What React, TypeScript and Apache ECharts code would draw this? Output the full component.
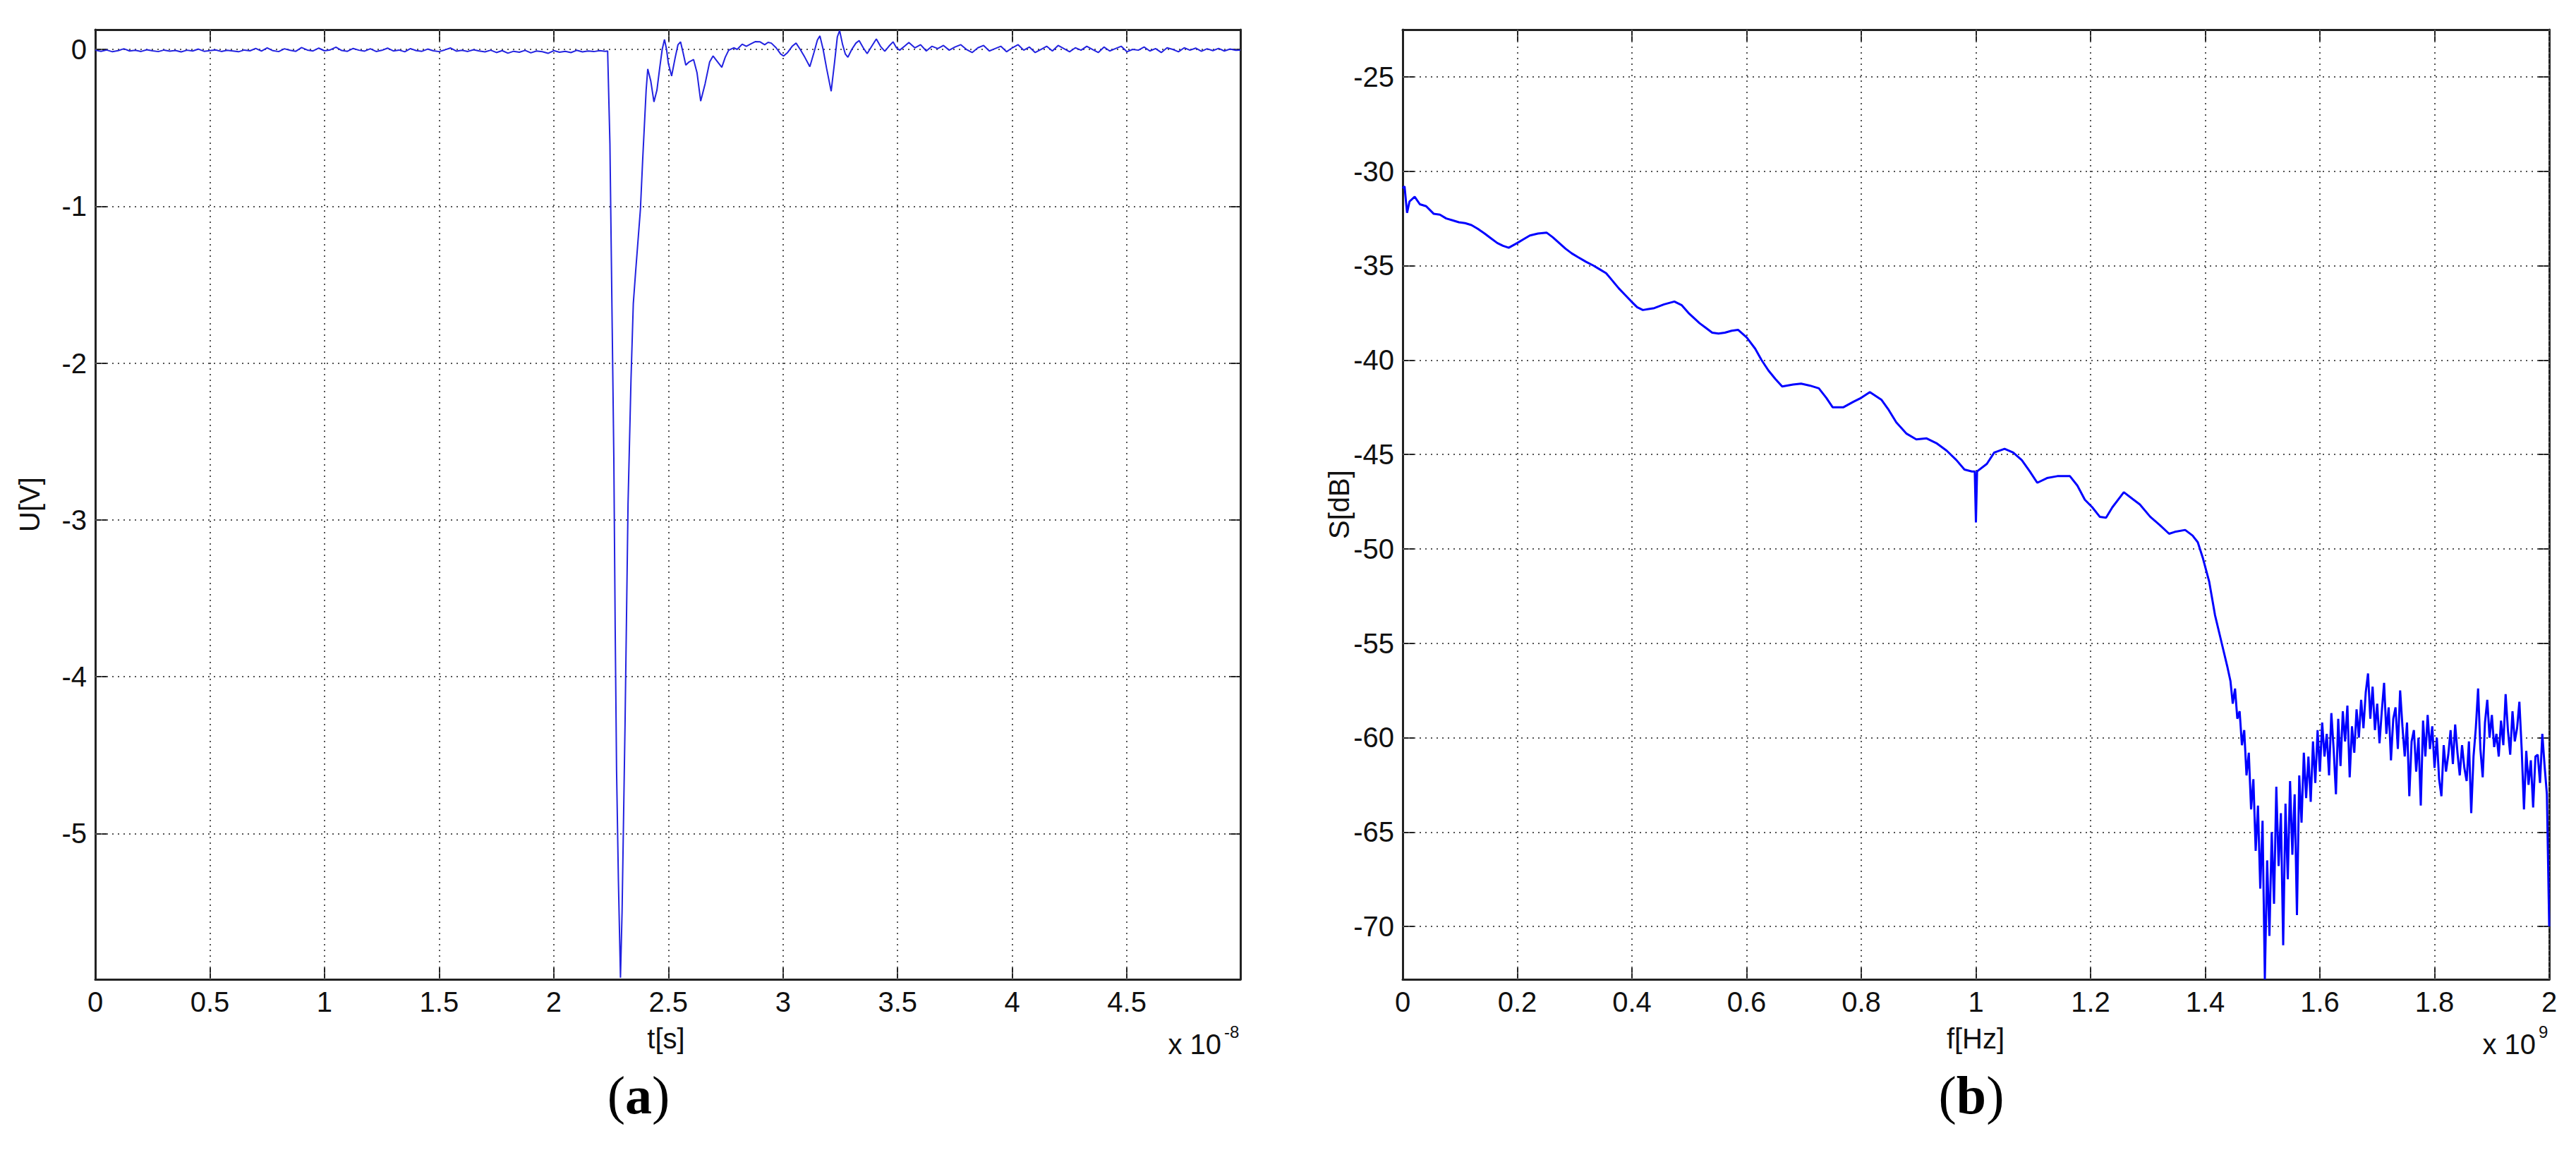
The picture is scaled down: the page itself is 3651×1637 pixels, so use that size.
import React, { useEffect, useRef } from "react";
import * as echarts from "echarts";

// ---------- (a) time-domain pulse, t in units of 1e-8 s, U in V ----------
const preTriggerStep = 0.025;
const preTriggerU = [
  -0.005, -0.012, -0.004, -0.015, -0.008, 0.004, -0.01, -0.006, -0.013, -0.002,
  -0.009, -0.014, -0.004, -0.011, -0.007, -0.016, -0.005, -0.01, 0.002, -0.012,
  -0.008, -0.003, -0.013, -0.006, -0.01, -0.015, -0.004, -0.009, 0.006, -0.011,
  0.01, -0.008, -0.014, 0.004, -0.006, -0.012, 0.012, -0.004, -0.01, 0.008,
  -0.009, -0.003, 0.014, -0.007, -0.012, 0.006, -0.005, -0.011, 0.004, -0.013,
  -0.006, 0.008, -0.01, -0.004, -0.015, 0.005, -0.008, -0.012, 0.002, -0.009,
  -0.014, -0.003, 0.009, -0.011, -0.006, -0.013, -0.002, -0.01, -0.016, -0.005,
  -0.02, -0.008, -0.024, -0.012, -0.018, -0.006, -0.022, -0.01, -0.015, -0.025,
  -0.008, -0.018, -0.012, -0.02, -0.006, -0.016, -0.01, -0.014, -0.008, -0.012,
];
const pulseT = [
  2.235, 2.245, 2.255, 2.262, 2.268, 2.274, 2.282, 2.291, 2.298, 2.311,
  2.324, 2.337, 2.347, 2.357, 2.378, 2.388, 2.403, 2.41, 2.423, 2.437,
  2.45, 2.462, 2.473, 2.483, 2.492, 2.5, 2.514, 2.53, 2.542, 2.553,
  2.564, 2.576, 2.59, 2.61, 2.625, 2.641, 2.66, 2.68, 2.695, 2.715,
  2.733, 2.748, 2.763, 2.785, 2.8, 2.822, 2.84, 2.86, 2.88, 2.9,
  2.92, 2.935, 2.949, 2.97, 2.99, 3.003, 3.02, 3.04, 3.057, 3.075,
  3.095, 3.117, 3.135, 3.15, 3.161, 3.175, 3.19, 3.21, 3.225, 3.237,
  3.247, 3.26, 3.272, 3.283, 3.3, 3.318, 3.332, 3.35, 3.367, 3.387,
  3.407, 3.425, 3.444, 3.462, 3.48, 3.495, 3.509, 3.53, 3.549,
];
const pulseU = [
  -0.01, -0.6, -1.78, -2.6, -3.7, -4.6, -5.3, -5.92, -5.5, -4.3,
  -2.9, -2.1, -1.62, -1.42, -1.02, -0.7, -0.26, -0.125, -0.2, -0.335,
  -0.26, -0.12, 0.0, 0.063, 0.0, -0.09, -0.17, -0.05, 0.03, 0.048,
  -0.02, -0.1, -0.08, -0.065, -0.15, -0.33, -0.22, -0.08, -0.042, -0.08,
  -0.114, -0.05, -0.005, 0.01, 0.0, 0.033, 0.02, 0.035, 0.05, 0.048,
  0.03, 0.045, 0.04, 0.01, -0.03, -0.042, -0.02, 0.02, 0.04, 0.0,
  -0.05, -0.11, -0.02, 0.06, 0.086, 0.0, -0.12, -0.267, -0.08, 0.08,
  0.12, 0.03, -0.03, -0.05, 0.0, 0.04, 0.056, 0.01, -0.027, 0.02,
  0.066, 0.02, -0.012, 0.02, 0.048, 0.01, -0.005, 0.02, 0.044,
];
const tailStart = 3.575;
const tailStep = 0.025;
const tailU = [
  0.01, 0.03, -0.01, 0.02, 0.005, 0.025, -0.005, 0.015, 0.03, 0.0,
  -0.02, 0.01, 0.025, -0.01, 0.005, 0.02, -0.015, 0.01, 0.03, -0.005,
  0.015, -0.02, 0.0, 0.02, -0.01, 0.025, 0.005, -0.015, 0.01, -0.005,
  0.02, 0.0, -0.02, 0.015, -0.01, 0.005, 0.02, -0.015, 0.0, -0.005,
  0.015, -0.01, 0.005, -0.02, 0.01, 0.0, -0.015, 0.01, -0.005, 0.008,
  -0.012, 0.004, -0.008, 0.006, -0.01, 0.002, -0.006,
];
const endT = 4.995;
const endU = -0.004;
const tRange = [0, 4.995];
const uRange = [-5.93, 0.126];
const tTicks = [0, 0.5, 1, 1.5, 2, 2.5, 3, 3.5, 4, 4.5];
const uTicks = [-5, -4, -3, -2, -1, 0];

// ---------- (b) spectrum, f in units of 1e9 Hz, S in dB ----------
const specF = [
  0, 0.0033, 0.0077, 0.012, 0.021, 0.03, 0.041, 0.054, 0.065, 0.076,
  0.087, 0.098, 0.109, 0.12, 0.131, 0.143, 0.154, 0.165, 0.175, 0.185,
  0.2, 0.211, 0.222, 0.236, 0.251, 0.262, 0.273, 0.284, 0.295, 0.306,
  0.32, 0.333, 0.344, 0.355, 0.366, 0.377, 0.388, 0.399, 0.409, 0.419,
  0.429, 0.439, 0.456, 0.474, 0.487, 0.5, 0.509, 0.518, 0.529, 0.54,
  0.551, 0.562, 0.574, 0.585, 0.6, 0.615, 0.626, 0.638, 0.65, 0.662,
  0.681, 0.695, 0.71, 0.726, 0.739, 0.75, 0.769, 0.787, 0.8, 0.815,
  0.835, 0.848, 0.861, 0.879, 0.896, 0.914, 0.931, 0.949, 0.966, 0.98,
  0.993, 0.998, 1.0, 1.002, 1.019, 1.032, 1.05, 1.065, 1.08, 1.094,
  1.107, 1.124, 1.142, 1.164, 1.177, 1.19, 1.203, 1.216, 1.227, 1.238,
  1.258, 1.273, 1.286, 1.304, 1.321, 1.337, 1.347, 1.365, 1.378, 1.387,
  1.396, 1.407, 1.417, 1.428, 1.439,
];
const specS = [
  -30.9, -30.8, -32.2, -31.6, -31.35, -31.75, -31.85, -32.25, -32.3, -32.5,
  -32.6, -32.7, -32.75, -32.85, -33.05, -33.3, -33.55, -33.8, -33.95, -34.05,
  -33.8, -33.6, -33.4, -33.3, -33.25, -33.5, -33.8, -34.1, -34.35, -34.55,
  -34.8, -35.0, -35.2, -35.4, -35.8, -36.2, -36.55, -36.9, -37.2, -37.35,
  -37.3, -37.25, -37.05, -36.9, -37.1, -37.55, -37.8, -38.05, -38.3, -38.55,
  -38.6, -38.55, -38.45, -38.4, -38.8, -39.4, -40.0, -40.55, -41.0, -41.4,
  -41.3, -41.25, -41.35, -41.5, -42.0, -42.5, -42.5, -42.2, -42.0, -41.7,
  -42.1, -42.65, -43.3, -43.9, -44.2, -44.15, -44.4, -44.8, -45.3, -45.8,
  -45.9, -45.9, -48.6, -45.9, -45.5, -44.9, -44.7, -44.9, -45.3, -45.9,
  -46.5, -46.25, -46.15, -46.15, -46.65, -47.4, -47.8, -48.3, -48.35, -47.8,
  -47.0, -47.35, -47.65, -48.3, -48.75, -49.2, -49.1, -49.0, -49.3, -49.65,
  -50.5, -51.75, -53.5, -54.9, -56.3,
];
const noisyStart = 1.444;
const noisyStep = 0.004;
const noisyS = [
  -57.0, -58.2, -57.4, -59.0, -58.6, -60.4, -59.6, -62.0, -60.8, -63.8,
  -62.2, -66.0, -63.6, -68.0, -64.4, -72.8, -66.5, -70.5, -65.0, -68.8,
  -62.6, -66.8, -64.0, -71.0, -63.5, -67.5, -62.3, -66.2, -63.0, -69.4,
  -62.0, -64.5, -60.8, -63.2, -61.0, -63.4, -60.2, -62.4, -59.6, -61.8,
  -59.2, -61.0, -59.8, -62.0, -58.7, -60.6, -63.0, -59.0, -61.5, -58.6,
  -60.2, -58.3, -62.1, -59.4, -60.8, -58.5, -60.0, -58.0, -59.5, -57.6,
  -56.6, -59.0, -57.3, -59.6, -58.2, -60.3, -58.6, -57.1, -59.8, -58.4,
  -61.2, -59.0, -58.4, -60.6, -57.5, -59.4, -61.0, -59.2, -63.1, -60.2,
  -59.6, -61.8, -60.0, -63.6, -59.1, -61.0, -58.8, -60.6, -59.4, -61.6,
  -60.0, -62.2, -63.1, -60.4, -61.8, -60.9, -59.6, -61.4, -59.3, -60.8,
  -62.0, -60.4, -61.6, -62.3, -60.2, -64.0, -61.0, -59.5, -57.4, -60.6,
  -62.1, -59.2, -58.0, -60.0, -58.8, -60.5, -59.8, -61.0, -59.1, -60.4,
  -57.7, -59.6, -60.9, -58.6, -60.2, -59.5, -58.1, -60.6, -63.8, -60.7,
  -62.5, -61.2, -63.7, -61.0, -60.9, -62.4, -59.8, -61.5, -63.0,
];
const endF = 2.0;
const endS = -70.0;
const fRange = [0, 2];
const sRange = [-72.8, -22.5];
const fTicks = [0, 0.2, 0.4, 0.6, 0.8, 1, 1.2, 1.4, 1.6, 1.8, 2];
const sTicks = [-70, -65, -60, -55, -50, -45, -40, -35, -30, -25];

const SANS = '"Liberation Sans", Arial, Helvetica, sans-serif';
const SERIF = '"Liberation Serif", "Times New Roman", serif';
const PULSE_BLUE = "#2222e0";
const SPEC_BLUE = "#0000ff";
const FRAME = "#222";
const GRID = "#555";

function buildPulse(): number[][] {
  const d: number[][] = [];
  preTriggerU.forEach((u, i) => d.push([+(i * preTriggerStep).toFixed(4), u]));
  pulseT.forEach((t, i) => d.push([t, pulseU[i]]));
  tailU.forEach((u, i) => d.push([+(tailStart + i * tailStep).toFixed(4), u]));
  d.push([endT, endU]);
  return d;
}

function buildSpectrum(): number[][] {
  const d: number[][] = [];
  specF.forEach((f, i) => d.push([f, specS[i]]));
  noisyS.forEach((s, i) => d.push([+(noisyStart + i * noisyStep).toFixed(4), s]));
  d.push([endF, endS]);
  return d;
}

function frameAxis(
  gridIndex: number,
  range: number[],
  ticks: number[],
  position: string,
  labels: boolean,
  dim: "x" | "y"
) {
  return {
    type: "value",
    gridIndex,
    min: range[0],
    max: range[1],
    position,
    axisLine: { show: true, onZero: false, lineStyle: { color: FRAME, width: 3 } },
    axisTick: {
      show: true,
      inside: true,
      length: 16,
      customValues: ticks,
      lineStyle: { color: FRAME, width: 2 },
    },
    axisLabel: labels
      ? {
          show: true,
          customValues: ticks,
          formatter: (v: number) => String(v),
          fontSize: 40,
          lineHeight: 40,
          fontFamily: SANS,
          color: "#111",
          margin: dim === "x" ? 12 : 12,
        }
      : { show: false },
    splitLine: { show: false },
  };
}

function gridSeries(xi: number, yi: number, xTicks: number[], yTicks: number[], x0: number, y0: number) {
  return {
    type: "line",
    xAxisIndex: xi,
    yAxisIndex: yi,
    data: [[x0, y0]],
    showSymbol: false,
    silent: true,
    z: 1,
    lineStyle: { opacity: 0 },
    markLine: {
      silent: true,
      z: 1,
      symbol: ["none", "none"],
      label: { show: false },
      emphasis: { disabled: true },
      lineStyle: { type: [2, 6], color: GRID, width: 2 },
      data: [
        ...yTicks.map((v) => ({ yAxis: v })),
        ...xTicks.filter((v) => v > 0).map((v) => ({ xAxis: v })),
      ],
    },
  };
}

function text(x: number, y: number, str: string, size: number, extra: any = {}) {
  return {
    type: "text",
    x,
    y,
    silent: true,
    ...extra,
    style: {
      text: str,
      fontSize: size,
      lineHeight: size,
      fontFamily: SANS,
      fill: "#111",
      align: extra.align || "center",
      verticalAlign: "middle",
    },
  };
}

function caption(x: number, y: number, letter: string) {
  return {
    type: "text",
    x,
    y,
    silent: true,
    style: {
      text: "{p|(}{b|" + letter + "}{p|)}",
      align: "center",
      verticalAlign: "middle",
      rich: {
        p: { fontFamily: SERIF, fontSize: 76, fill: "#000" },
        b: { fontFamily: SERIF, fontSize: 76, fontWeight: "bold", fill: "#000" },
      },
    },
  };
}

export default function App() {
  const ref = useRef<HTMLDivElement>(null);

  useEffect(() => {
    document.body.style.margin = "0";
    if (!ref.current) return;
    const chart = echarts.init(ref.current, null, { renderer: "svg" });

    const option: any = {
      animation: false,
      backgroundColor: "#ffffff",
      grid: [
        { left: 135, top: 42, width: 1623, height: 1346 },
        { left: 1988, top: 42, width: 1625, height: 1346 },
      ],
      xAxis: [
        frameAxis(0, tRange, tTicks, "bottom", true, "x"),
        frameAxis(0, tRange, tTicks, "top", false, "x"),
        frameAxis(1, fRange, fTicks, "bottom", true, "x"),
        frameAxis(1, fRange, fTicks, "top", false, "x"),
      ],
      yAxis: [
        frameAxis(0, uRange, uTicks, "left", true, "y"),
        frameAxis(0, uRange, uTicks, "right", false, "y"),
        frameAxis(1, sRange, sTicks, "left", true, "y"),
        frameAxis(1, sRange, sTicks, "right", false, "y"),
      ],
      series: [
        gridSeries(0, 0, tTicks, uTicks, 0, 0),
        gridSeries(2, 2, fTicks, sTicks, 0, -30.9),
        {
          type: "line",
          xAxisIndex: 0,
          yAxisIndex: 0,
          data: buildPulse(),
          showSymbol: false,
          z: 3,
          lineStyle: { color: PULSE_BLUE, width: 2 },
        },
        {
          type: "line",
          xAxisIndex: 2,
          yAxisIndex: 2,
          data: buildSpectrum(),
          showSymbol: false,
          z: 3,
          lineStyle: { color: SPEC_BLUE, width: 3 },
        },
      ],
      graphic: {
        elements: [
          text(42, 715, "U[V]", 40, { rotation: Math.PI / 2 }),
          text(944, 1472, "t[s]", 40),
          text(1731, 1480, "x 10", 40, { align: "right" }),
          text(1735, 1462, "-8", 24, { align: "left" }),
          text(1898, 715, "S[dB]", 40, { rotation: Math.PI / 2 }),
          text(2800, 1472, "f[Hz]", 40),
          text(3594, 1480, "x 10", 40, { align: "right" }),
          text(3598, 1462, "9", 24, { align: "left" }),
          caption(905, 1552, "a"),
          caption(2794, 1552, "b"),
        ],
      },
    };

    chart.setOption(option);
    return () => {
      chart.dispose();
    };
  }, []);

  return (
    <div
      ref={ref}
      style={{ width: 3651, height: 1637, background: "#fff", overflow: "hidden" }}
    />
  );
}
